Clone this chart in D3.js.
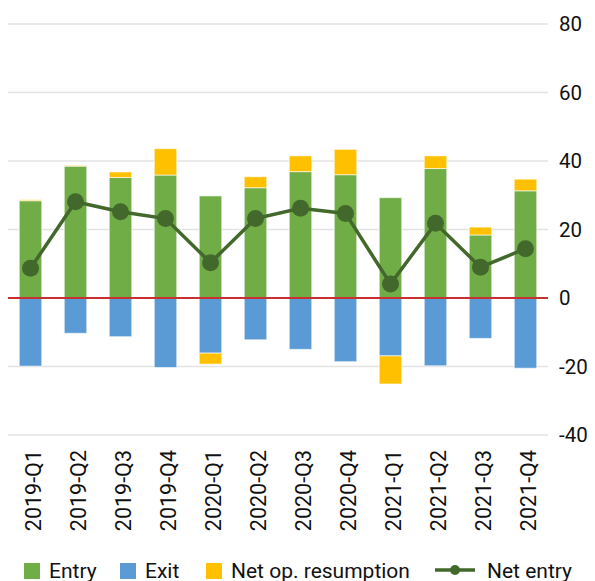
<!DOCTYPE html>
<html>
<head>
<meta charset="utf-8">
<script src="https://cdn.jsdelivr.net/npm/d3@7"></script>
<style>
  body { margin: 0; background: #fff; }
  text { font-family: Roboto, "Noto Sans", sans-serif; fill: #111; }
</style>
</head>
<body>
<div id="chart"></div>
<script>
// quarters and series
var quarters = ["2019-Q1","2019-Q2","2019-Q3","2019-Q4","2020-Q1","2020-Q2","2020-Q3","2020-Q4","2021-Q1","2021-Q2","2021-Q3","2021-Q4"];
var entry   = [28.4, 38.5, 35.2, 35.9, 29.8, 32.2, 36.9, 36.0, 29.3, 37.8, 18.4, 31.3];
var exit    = [-19.9, -10.3, -11.3, -20.3, -16.1, -12.2, -15.0, -18.6, -16.9, -19.8, -11.8, -20.5];
var netOp   = [0.3, 0.2, 1.6, 7.7, -3.2, 3.2, 4.6, 7.4, -8.2, 3.7, 2.3, 3.4];
var netEntry = [8.7, 28.1, 25.2, 23.2, 10.3, 23.2, 26.2, 24.7, 4.1, 21.8, 9.0, 14.4];
var yTicks = [-40, -20, 0, 20, 40, 60, 80];

var width = 595, height = 581;
var colEntry = "#70ad47", colExit = "#5b9bd5", colNetOp = "#ffc000", colLine = "#43682b";

var svg = d3.select("#chart").append("svg")
    .attr("width", width)
    .attr("height", height);

var x = d3.scaleBand().domain(quarters).range([8, 548]).paddingInner(0.5).paddingOuter(0.25);
var y = d3.scaleLinear().domain([-40, 80]).range([435, 24]);

// grid
svg.append("g").selectAll("line")
    .data(yTicks.filter(d => d != 0))
    .join("line")
    .attr("x1", 8).attr("x2", 548)
    .attr("y1", d => y(d)).attr("y2", d => y(d))
    .attr("stroke", "#e3e3e3").attr("stroke-width", 1.3);

// right axis labels (plain hyphen like the original)
var yAxis = d3.axisRight(y).tickValues(yTicks).tickSize(0).tickPadding(0).tickFormat(d => String(d));
var ya = svg.append("g").attr("transform", "translate(559,0)").call(yAxis);
ya.select(".domain").remove();
ya.selectAll("text").attr("font-size", 20.5).attr("fill", "#111")
    .attr("font-family", "Roboto, sans-serif");

// bar segments
var segs = [];
quarters.forEach(function(q, i) {
    segs.push({q: q, y0: 0, y1: entry[i], c: colEntry});
    segs.push({q: q, y0: 0, y1: exit[i], c: colExit});
    if (netOp[i] >= 0) segs.push({q: q, y0: entry[i], y1: entry[i] + netOp[i], c: colNetOp});
    else segs.push({q: q, y0: exit[i], y1: exit[i] + netOp[i], c: colNetOp});
});

svg.append("g").selectAll("rect")
    .data(segs)
    .join("rect")
    .attr("x", d => x(d.q))
    .attr("width", x.bandwidth())
    .attr("y", d => y(Math.max(d.y0, d.y1)))
    .attr("height", d => Math.abs(y(d.y0) - y(d.y1)))
    .attr("fill", d => d.c)
    .attr("stroke", "#fff").attr("stroke-opacity", 0.6).attr("stroke-width", 1);

// zero line
svg.append("line")
    .attr("x1", 8).attr("x2", 548)
    .attr("y1", y(0)).attr("y2", y(0))
    .attr("stroke", "#c8302f").attr("stroke-width", 2);

// net entry line
var line = d3.line().x((d, i) => x(quarters[i]) + x.bandwidth() / 2).y(d => y(d));
svg.append("path")
    .datum(netEntry)
    .attr("d", line)
    .attr("fill", "none").attr("stroke", colLine).attr("stroke-width", 3.5);

svg.append("g").selectAll("circle")
    .data(netEntry)
    .join("circle")
    .attr("cx", (d, i) => x(quarters[i]) + x.bandwidth() / 2)
    .attr("cy", d => y(d))
    .attr("r", 8.5)
    .attr("fill", colLine);

// x labels rotated
svg.append("g").selectAll("text")
    .data(quarters)
    .join("text")
    .attr("transform", d => "translate(" + (x(d) + x.bandwidth() / 2 + 10) + ",450) rotate(-90)")
    .attr("text-anchor", "end")
    .attr("font-size", 21.5)
    .text(d => d);

// legend
var legItems = [
    {label: "Entry", c: colEntry, x: 24},
    {label: "Exit", c: colExit, x: 120},
    {label: "Net op. resumption", c: colNetOp, x: 206}
];
var lg = svg.append("g");
legItems.forEach(function(it) {
    lg.append("rect").attr("x", it.x).attr("y", 563).attr("width", 16).attr("height", 16).attr("fill", it.c);
    lg.append("text").attr("x", it.x + 25).attr("y", 578).attr("font-size", 21).text(it.label);
});
lg.append("line").attr("x1", 435).attr("x2", 475).attr("y1", 570).attr("y2", 570)
    .attr("stroke", colLine).attr("stroke-width", 3.5);
lg.append("circle").attr("cx", 455).attr("cy", 570).attr("r", 5).attr("fill", colLine);
lg.append("text").attr("x", 487).attr("y", 578).attr("font-size", 21).text("Net entry");
</script>
</body>
</html>
